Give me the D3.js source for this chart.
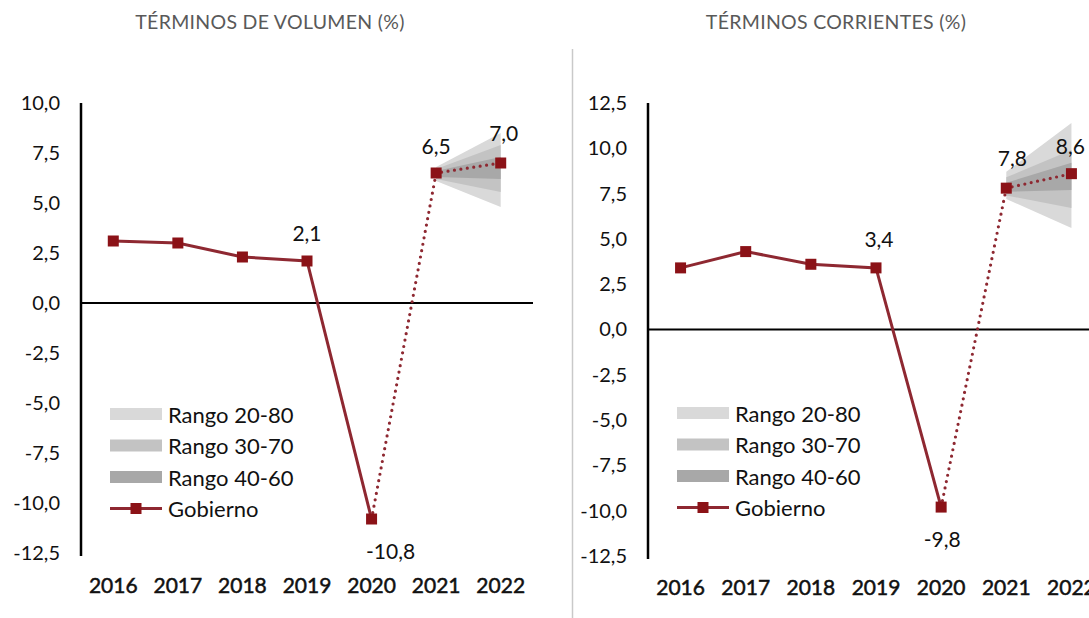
<!DOCTYPE html>
<html>
<head>
<meta charset="utf-8">
<script src="https://cdn.jsdelivr.net/npm/d3@7"></script>
<style>
  body { margin: 0; background: #fff; }
  svg { display: block; font-family: Lato, "Open Sans", sans-serif; }
</style>
</head>
<body>
<div id="chart-area"></div>
<script>
const years = ["2016", "2017", "2018", "2019", "2020", "2021", "2022"];
const fanYears = ["2021", "2022"];

// términos de volumen
const volumenValues = [3.1, 3.0, 2.3, 2.1, -10.8, 6.5, 7.0];
const volumenTicks = [10, 7.5, 5, 2.5, 0, -2.5, -5, -7.5, -10, -12.5];
const volumen2080Low = [6.1, 4.8];
const volumen2080High = [6.8, 8.5];
const volumen3070Low = [6.2, 5.55];
const volumen3070High = [6.7, 7.9];
const volumen4060Low = [6.3, 6.2];
const volumen4060High = [6.6, 7.3];

// términos corrientes
const corrientesValues = [3.4, 4.3, 3.6, 3.4, -9.8, 7.8, 8.6];
const corrientesTicks = [12.5, 10, 7.5, 5, 2.5, 0, -2.5, -5, -7.5, -10, -12.5];
const corrientes2080Low = [7.2, 5.6];
const corrientes2080High = [8.7, 11.4];
const corrientes3070Low = [7.4, 6.7];
const corrientes3070High = [8.4, 9.9];
const corrientes4060Low = [7.6, 7.7];
const corrientes4060High = [8.1, 9.2];

const legendNames = ["Rango 20-80", "Rango 30-70", "Rango 40-60", "Gobierno"];
const labeledYears = ["2019", "2020", "2021", "2022"];

const width = 1089;
const height = 618;
const lineColor = "#8e2831";
const markerColor = "#8b1217";
const bandColors = ["#d9d9d9", "#c3c3c3", "#a8a8a8"];
const fmt = (v) => d3.format(".1f")(v).replace(".", ",").replace("−", "-");

const svg = d3.select("#chart-area")
    .append("svg")
    .attr("width", width)
    .attr("height", height);

// separador
svg.append("line")
    .attr("x1", 572.5).attr("x2", 572.5)
    .attr("y1", 49).attr("y2", height)
    .attr("stroke", "#c9c9c9")
    .attr("stroke-width", 1.5);

const drawPanel = (p) => {
    const g = svg.append("g");

    const x = d3.scaleBand().domain(years).range([p.left, p.right]);
    const cx = (d) => x(d) + x.bandwidth() / 2;
    const y = d3.scaleLinear().domain(p.domain).range([p.bottom, p.top]);

    g.append("text")
        .attr("x", p.titleX)
        .attr("y", 29)
        .attr("text-anchor", "middle")
        .attr("font-size", "19.5px")
        .attr("fill", "#595959")
        .attr("letter-spacing", "0.3px")
        .text(p.title);

    // abanico
    const area = d3.area()
        .x((d) => cx(d.year))
        .y0((d) => y(d.low))
        .y1((d) => y(d.high));
    p.bands.forEach((b, i) => {
        const rows = fanYears.map((yr, j) => ({ year: yr, low: b.low[j], high: b.high[j] }));
        g.append("path")
            .datum(rows)
            .attr("d", area)
            .attr("fill", bandColors[i]);
    });

    // ejes
    const leftAxis = d3.axisLeft(y)
        .tickValues(p.ticks)
        .tickSize(0)
        .tickPadding(21)
        .tickFormat(fmt);
    const ga = g.append("g")
        .attr("transform", "translate(" + p.left + ",0)")
        .call(leftAxis);
    ga.select(".domain").attr("stroke", "#000").attr("stroke-width", 2.5)
        .attr("d", "M0," + (p.top) + "V" + (p.bottom + 3));
    ga.selectAll("text")
        .attr("font-size", "20px")
        .attr("font-family", "Lato, sans-serif")
        .attr("fill", "#111");

    const bottomAxis = d3.axisBottom(x).tickSize(0).tickPadding(0);
    const gb = g.append("g")
        .attr("transform", "translate(0," + p.yearY + ")")
        .call(bottomAxis);
    gb.select(".domain").remove();
    gb.selectAll("text")
        .attr("font-size", "21px")
        .attr("font-family", "Lato, sans-serif")
        .attr("fill", "#111")
        .attr("stroke", "#111")
        .attr("stroke-width", 0.5);

    g.append("line")
        .attr("x1", p.left).attr("x2", p.right)
        .attr("y1", y(0)).attr("y2", y(0))
        .attr("stroke", "#000")
        .attr("stroke-width", 2);

    // serie
    const pts = years.map((yr, i) => ({ year: yr, value: p.values[i] }));
    const line = d3.line().x((d) => cx(d.year)).y((d) => y(d.value));
    g.append("path")
        .datum(pts.slice(0, 5))
        .attr("d", line)
        .attr("fill", "none")
        .attr("stroke", lineColor)
        .attr("stroke-width", 3);
    g.append("path")
        .datum(pts.slice(4))
        .attr("d", line)
        .attr("fill", "none")
        .attr("stroke", lineColor)
        .attr("stroke-width", 3.2)
        .attr("stroke-linecap", "round")
        .attr("stroke-dasharray", "0,6.5");
    g.selectAll(".mk").data(pts).enter()
        .append("rect")
        .attr("x", (d) => cx(d.year) - 5.5)
        .attr("y", (d) => y(d.value) - 5.5)
        .attr("width", 11)
        .attr("height", 11)
        .attr("fill", markerColor);

    // etiquetas
    g.selectAll(".lbl").data(pts.filter((d) => labeledYears.includes(d.year))).enter()
        .append("text")
        .attr("x", (d, i) => cx(d.year) + p.labelOffsets[i][0])
        .attr("y", (d, i) => y(d.value) + p.labelOffsets[i][1])
        .attr("text-anchor", "middle")
        .attr("dominant-baseline", "central")
        .attr("font-size", "21px")
        .attr("fill", "#111")
        .text((d) => fmt(d.value));

    // leyenda
    legendNames.forEach((name, i) => {
        const ly = p.legendY + i * 31.5;
        if (i < 3) {
            g.append("rect")
                .attr("x", p.legendX)
                .attr("y", ly - 6)
                .attr("width", 52)
                .attr("height", 12)
                .attr("fill", bandColors[i]);
        } else {
            g.append("line")
                .attr("x1", p.legendX).attr("x2", p.legendX + 52)
                .attr("y1", ly).attr("y2", ly)
                .attr("stroke", lineColor)
                .attr("stroke-width", 3);
            g.append("rect")
                .attr("x", p.legendX + 20.5).attr("y", ly - 5.5)
                .attr("width", 11).attr("height", 11)
                .attr("fill", markerColor);
        }
        g.append("text")
            .attr("x", p.legendX + 58)
            .attr("y", ly)
            .attr("dominant-baseline", "central")
            .attr("font-size", "22px")
            .attr("fill", "#111")
            .text(name);
    });
};

drawPanel({
    title: "TÉRMINOS DE VOLUMEN (%)",
    titleX: 270,
    left: 81, right: 533,
    top: 103, bottom: 553,
    domain: [-12.5, 10],
    ticks: volumenTicks,
    values: volumenValues,
    yearY: 578,
    bands: [
        { low: volumen2080Low, high: volumen2080High },
        { low: volumen3070Low, high: volumen3070High },
        { low: volumen4060Low, high: volumen4060High }
    ],
    labelOffsets: [[0, -29], [19, 31], [0, -28], [3, -31]],
    legendX: 110, legendY: 414
});

drawPanel({
    title: "TÉRMINOS CORRIENTES (%)",
    titleX: 836,
    left: 648, right: 1104,
    top: 103, bottom: 556,
    domain: [-12.5, 12.5],
    ticks: corrientesTicks,
    values: corrientesValues,
    yearY: 580,
    bands: [
        { low: corrientes2080Low, high: corrientes2080High },
        { low: corrientes3070Low, high: corrientes3070High },
        { low: corrientes4060Low, high: corrientes4060High }
    ],
    labelOffsets: [[3, -29], [1, 31], [6, -31], [-1, -28]],
    legendX: 677, legendY: 413
});
</script>
</body>
</html>
